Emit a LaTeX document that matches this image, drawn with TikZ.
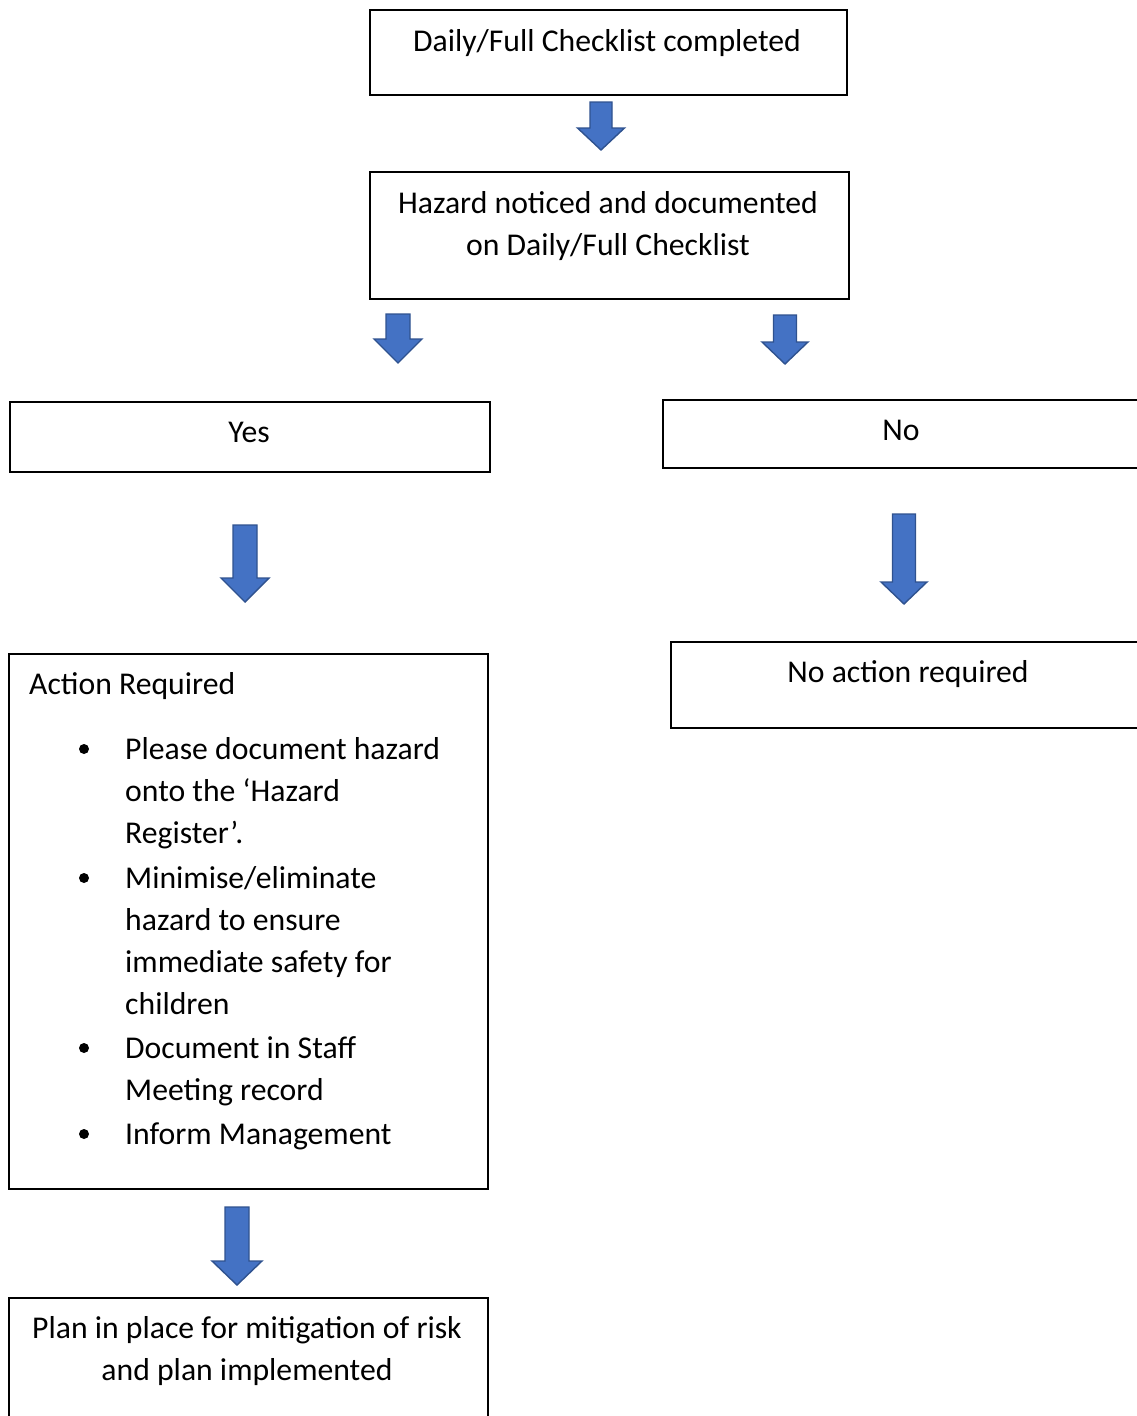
\documentclass[tikz,border=0pt]{standalone}
\usepackage{fontspec}
\setmainfont{Carlito}
\usepackage{tikz}
\usetikzlibrary{calc}

\definecolor{arrowblue}{HTML}{4472C4}
\definecolor{arrowedge}{HTML}{2F528F}

\tikzset{
  box/.style={draw=black, line width=1.5pt, anchor=north west, inner sep=0pt},
  txt/.style={inner sep=0pt, font=\fontsize{31.7}{42}\selectfont},
  barrow/.style={fill=arrowblue, draw=arrowedge, line width=1.4pt, line join=miter},
  bul/.style={circle, fill=black, inner sep=0pt, minimum size=10pt}
}

% block arrow: top centre, length, half shaft, half head, head length
\newcommand{\blockarrow}[5]{%
  \begin{scope}[shift={#1}]
    \draw[barrow] (-#3,0) -- (#3,0) -- (#3,-#2+#5) -- (#4,-#2+#5) -- (0,-#2)
      -- (-#4,-#2+#5) -- (-#3,-#2+#5) -- cycle;
  \end{scope}}

\begin{document}
\begin{tikzpicture}[x=1pt,y=1pt]
  \useasboundingbox (0,0) rectangle (1137,-1416);
  \clip (0,0) rectangle (1137,-1416);
  % boxes
  \node[box, minimum width=477, minimum height=85] (check) at (369,-9) {};
  \node[box, minimum width=479, minimum height=127] (hazard) at (369,-171) {};
  \node[box, minimum width=480, minimum height=70] (yes) at (9,-401) {};
  \node[box, minimum width=520, minimum height=68] (no) at (662,-399) {};
  \node[box, minimum width=479, minimum height=535] (action) at (8,-653) {};
  \node[box, minimum width=500, minimum height=86] (noaction) at (670,-641) {};
  \node[box, minimum width=479, minimum height=160] (plan) at (8,-1297) {};
  % texts (multi-line ones sit on their last baseline)
  \node[txt, anchor=base] (checktxt) at (607,-51) {Daily/Full Checklist completed};
  \node[txt, anchor=base, align=center] (hazardtxt) at (608,-255)
    {Hazard noticed and documented\\on Daily/Full Checklist};
  \node[txt, anchor=base] (yestxt) at (249,-442) {Yes};
  \node[txt, anchor=base] (notxt) at (901,-440) {No};
  \node[txt, anchor=base] (noactiontxt) at (908,-682) {No action required};
  \node[txt, anchor=base west] (actiontxt) at (29,-694) {Action Required};
  \node[txt, anchor=base, align=center] (plantxt) at (247,-1380)
    {Plan in place for mitigation of risk\\and plan implemented};
  % list
  \node[bul] (b1) at (84,-749) {};
  \node[txt, anchor=base west, align=left] (item1) at (125,-843)
    {Please document hazard\\onto the ‘Hazard\\Register’.};
  \node[bul] (b2) at (84,-878) {};
  \node[txt, anchor=base west, align=left] (item2) at (125,-1014)
    {Minimise/eliminate\\hazard to ensure\\immediate safety for\\children};
  \node[bul] (b3) at (84,-1048) {};
  \node[txt, anchor=base west, align=left] (item3) at (125,-1100)
    {Document in Staff\\Meeting record};
  \node[bul] (b4) at (84,-1134) {};
  \node[txt, anchor=base west] (item4) at (125,-1144) {Inform Management};
  % arrows
  \blockarrow{(601,-102)}{48}{11}{23.5}{22}
  \blockarrow{(398,-314)}{49}{12}{24}{24}
  \blockarrow{(785,-315)}{49}{11.5}{23}{22}
  \blockarrow{(245,-525)}{77}{12}{24}{24}
  \blockarrow{(904,-514)}{90}{11.5}{23}{22}
  \blockarrow{(237,-1207)}{78}{12}{25}{24}
\end{tikzpicture}
\end{document}
